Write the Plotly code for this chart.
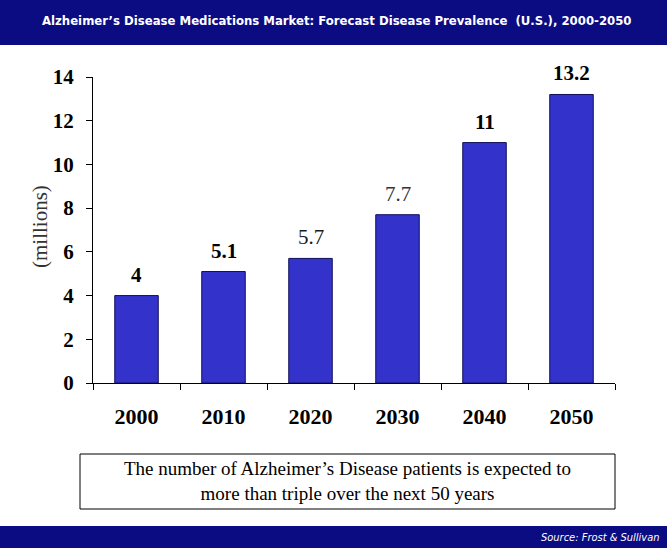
import plotly.graph_objects as go

years = ["2000", "2010", "2020", "2030", "2040", "2050"]
values = [4, 5.1, 5.7, 7.7, 11, 13.2]
label_weights = ["bold", "bold", "normal", "normal", "bold", "bold"]
label_colors = ["#000000", "#000000", "#1a1a1a", "#333333", "#000000", "#000000"]
y_ticks = [0, 2, 4, 6, 8, 10, 12, 14]

title_text = "Alzheimer’s Disease Medications Market: Forecast Disease Prevalence  (U.S.), 2000-2050"
note_text = "The number of Alzheimer’s Disease patients is expected to<br>more than triple over the next 50 years"
source_text = "Source: Frost & Sullivan"

W, H = 667, 548
L, R, T, B = 93, 52, 77, 165
pw, ph = W - L - R, H - T - B

def px_x(p):
    return (p - L) / pw

def px_y(p):
    return (H - B - p) / ph

fig = go.Figure()
fig.add_trace(go.Bar(
    x=years, y=values, width=0.5,
    marker=dict(color="#3333cc", line=dict(color="#10105a", width=1)),
    hoverinfo="x+y",
))

for i, (v, wgt, col) in enumerate(zip(values, label_weights, label_colors)):
    txt = f"{v:g}"
    if wgt == "bold":
        txt = f"<b>{txt}</b>"
    fig.add_annotation(x=i, y=v, xref="x", yref="y", text=txt, showarrow=False, yanchor="bottom",
                       yshift=7, font=dict(family="Liberation Serif", size=21, color=col))

navy = "#0b0b82"
# top banner
fig.add_shape(type="rect", xref="paper", yref="paper", x0=px_x(0), x1=px_x(W),
              y0=px_y(45), y1=px_y(0), fillcolor=navy, line=dict(width=0), layer="below")
# bottom banner
fig.add_shape(type="rect", xref="paper", yref="paper", x0=px_x(0), x1=px_x(W),
              y0=px_y(H), y1=px_y(526), fillcolor=navy, line=dict(width=0), layer="below")
# note box
fig.add_shape(type="rect", xref="paper", yref="paper", x0=px_x(80), x1=px_x(615),
              y0=px_y(509), y1=px_y(454), fillcolor="white",
              line=dict(color="#000000", width=1))

fig.add_annotation(xref="paper", yref="paper", x=px_x(336), y=px_y(20), text=f"<b>{title_text}</b>",
                   showarrow=False, xanchor="center", yanchor="middle",
                   font=dict(family="DejaVu Sans Condensed", size=13, color="white"))
fig.add_annotation(xref="paper", yref="paper", x=px_x(347), y=px_y(481), text=note_text,
                   showarrow=False, xanchor="center", yanchor="middle",
                   font=dict(family="Liberation Serif", size=19, color="black"))
fig.add_annotation(xref="paper", yref="paper", x=px_x(662), y=px_y(537), text=f"<i>{source_text}</i>",
                   showarrow=False, xanchor="right", yanchor="middle",
                   font=dict(family="DejaVu Sans Condensed", size=11, color="white"))
fig.add_annotation(xref="paper", yref="paper", x=px_x(40), y=px_y(227), text="(millions)",
                   showarrow=False, textangle=-90, xanchor="center", yanchor="middle",
                   font=dict(family="Liberation Serif", size=21, color="#333333"))

fig.update_layout(
    width=W, height=H,
    margin=dict(l=L, r=R, t=T, b=B, pad=0),
    paper_bgcolor="white", plot_bgcolor="white",
    showlegend=False,
    bargap=0.5,
)
fig.update_xaxes(type="category", showline=True, linecolor="black", linewidth=1,
                 ticks="outside", ticklen=6, tickcolor="black", tickson="boundaries",
                 showgrid=False, ticklabelstandoff=14,
                 tickfont=dict(family="Liberation Serif", size=22, color="black", weight="bold"))
fig.update_yaxes(range=[0, 14], tickvals=y_ticks, showline=True, linecolor="black", linewidth=1,
                 ticks="outside", ticklen=6, tickcolor="black", showgrid=False, zeroline=False,
                 ticklabelstandoff=8,
                 tickfont=dict(family="Liberation Serif", size=21, color="black", weight="bold"))

fig.write_html("out.html", config={"displayModeBar": False},
               post_script="document.body.style.margin='0';document.body.style.overflow='hidden';")
